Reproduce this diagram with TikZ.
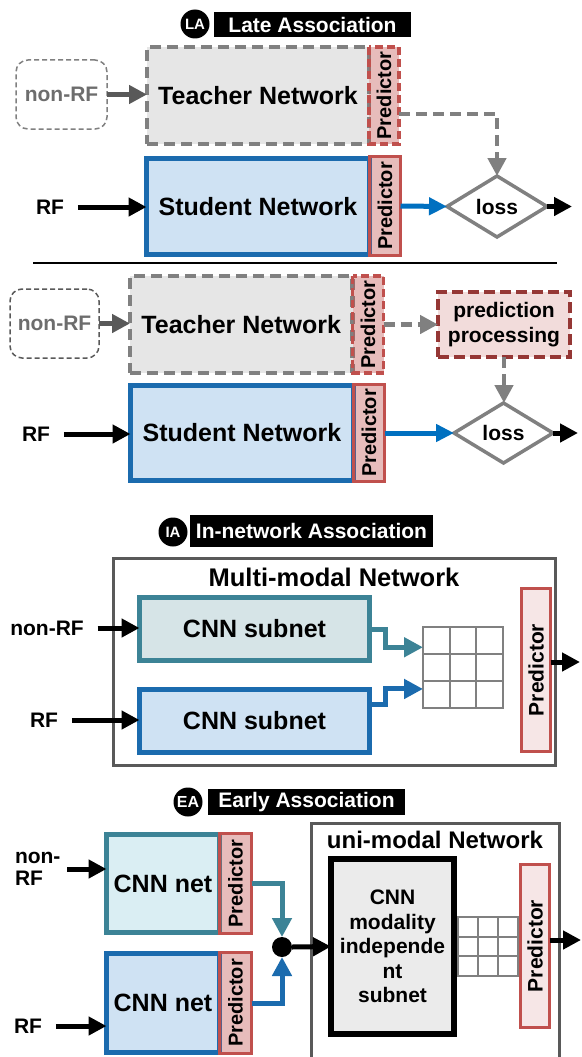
\documentclass[tikz,border=0pt]{standalone}
\usepackage{fontspec}
\setmainfont{Liberation Sans}
\usetikzlibrary{arrows.meta,shapes.geometric,calc}
\definecolor{gbord}{HTML}{808080}
\definecolor{tfill}{HTML}{E6E6E6}
\definecolor{sblue}{HTML}{1B6BAE}
\definecolor{sfill}{HTML}{CFE2F3}
\definecolor{predc}{HTML}{C0504D}
\definecolor{plight}{HTML}{F6E6E6}
\definecolor{ppb}{HTML}{953735}
\definecolor{ppf}{HTML}{F2DCDB}
\definecolor{arrblue}{HTML}{0070C0}
\definecolor{tealc}{HTML}{3C8396}
\definecolor{iatf}{HTML}{D6E4E7}
\definecolor{eatf}{HTML}{DAEEF3}
\definecolor{dgray}{HTML}{595959}
\definecolor{cmf}{HTML}{EBEBEB}
\definecolor{nrtext}{HTML}{6D6D6D}
\begin{document}
\begin{tikzpicture}[x=1pt,y=-1pt,
  every node/.style={inner sep=0pt,outer sep=0pt},
  ttl/.style={font=\bfseries\fontsize{21}{24}\selectfont},
  tsm/.style={font=\bfseries\fontsize{21}{24}\selectfont},
  tbig/.style={font=\bfseries\fontsize{25}{28}\selectfont},
  badge/.style={circle,fill=black,minimum size=29pt,text=white,font=\bfseries\fontsize{15}{15}\selectfont},
  titlebox/.style={fill=black,text=white,ttl},
  nonrfbox/.style={draw=#1,line width=1.5pt,dash pattern=on 5pt off 3pt,rounded corners=12pt,text=nrtext,tsm},
  teacherbox/.style={draw=gbord,line width=4.5pt,dash pattern=on 11pt off 6pt,fill=tfill,tbig},
  studentbox/.style={draw=sblue,line width=5pt,fill=sfill,tbig},
  predbase/.style={rotate=90,fill=predc,fill opacity=0.38,text opacity=1,draw=predc,draw opacity=1,line width=3.5pt,font=\bfseries\fontsize{20}{22}\selectfont},
  predT/.style={predbase,dash pattern=on 8pt off 4pt},
  predS/.style={predbase},
  predU/.style={rotate=90,fill=plight,draw=predc,line width=3.5pt,font=\bfseries\fontsize{21}{22}\selectfont},
  lossd/.style={diamond,draw=gbord,line width=3.5pt,fill=white,minimum width=100pt,minimum height=61pt,tsm},
  ppbox/.style={draw=ppb,line width=4.5pt,dash pattern=on 11pt off 5pt,fill=ppf,align=center,font=\bfseries\fontsize{21}{25}\selectfont},
  tealbox/.style={draw=tealc,line width=5pt,tbig},
  bluebox/.style={draw=sblue,line width=5pt,fill=sfill,tbig},
  netbox/.style={draw=dgray,line width=3pt,fill=white},
  gridbox/.style={draw=gbord,line width=2pt,fill=white},
  karr/.style={draw=black,line width=5pt,-{Triangle[length=18pt,width=18pt]}},
  garr/.style={draw=dgray,line width=5.5pt,-{Triangle[length=18pt,width=18pt]}},
  gdarr/.style={draw=gbord,line width=4.5pt,dash pattern=on 11pt off 6pt,-{Triangle[length=18pt,width=18pt]}},
  barr/.style={draw=arrblue,line width=5pt,-{Triangle[length=18pt,width=17pt]}},
  tarr/.style={draw=tealc,line width=5pt,-{Triangle[length=19pt,width=19pt]}},
  sarr/.style={draw=sblue,line width=5pt,-{Triangle[length=19pt,width=19pt]}},
]
\useasboundingbox (0,0) rectangle (581,1057);

% ================= Late Association =================
\node[badge] (la) at (195,24) {LA};
\node[titlebox,minimum width=197pt,minimum height=25pt] (lat) at (312.5,24.5) {Late Association};

\node[nonrfbox=gbord,minimum width=91pt,minimum height=69pt] (nr1) at (61.5,94.5) {non-RF};
\node[teacherbox,minimum width=222pt,minimum height=97pt] (t1) at (258,95.5) {Teacher Network};
\node[predT,minimum width=97pt,minimum height=30pt] (tp1) at (384,95.5) {Predictor};
\node[studentbox,minimum width=223pt,minimum height=96pt] (s1) at (258,206.5) {Student Network};
\node[predS,minimum width=99pt,minimum height=31pt] (sp1) at (385,206) {Predictor};
\node[lossd] (l1) at (497,206.5) {loss};
\node[tsm] (rf1) at (50,207) {RF};
\coordinate (o1) at (572,206.5);

\draw[garr] (nr1.east) -- (nr1.east -| t1.west);
\draw[karr] ([xshift=14pt]rf1.east) -- (rf1 -| s1.west);
\draw[gdarr] ([yshift=-18.5pt]tp1.south) -| (l1.north);
\draw[barr] (sp1.south) -- (l1.west);
\draw[karr] (l1.east) -- (o1);

\draw[line width=1.5pt] (33,263) -- (557,263);

% ================= second variant =================
\node[nonrfbox=dgray,minimum width=89pt,minimum height=69pt] (nr2) at (54.5,323.5) {non-RF};
\node[teacherbox,minimum width=222.5pt,minimum height=97pt] (t2) at (241.25,324.5) {Teacher Network};
\node[predT,minimum width=97pt,minimum height=31pt] (tp2) at (368,324.5) {Predictor};
\node[studentbox,minimum width=223pt,minimum height=95pt] (s2) at (242,433) {Student Network};
\node[predS,minimum width=97pt,minimum height=31pt] (sp2) at (369,433) {Predictor};
\node[ppbox,minimum width=132pt,minimum height=65pt] (pp) at (504,324.5) {prediction\\processing};
\node[lossd,minimum width=99pt,minimum height=60pt] (l2) at (503.5,433) {loss};
\node[tsm] (rf2) at (36,434) {RF};
\coordinate (o2) at (578,433);

\draw[garr] (nr2.east) -- (nr2.east -| t2.west);
\draw[karr] ([xshift=14pt]rf2.east) -- (rf2 -| s2.west);
\draw[gdarr] (tp2.south) -- (pp.west);
\draw[gdarr] (pp.south) -- (pp.south |- l2.north);
\draw[barr] (sp2.south) -- (l2.west);
\draw[karr] (l2.east) -- (o2);

% ================= In-network Association =================
\node[badge] (ia) at (173,532) {IA};
\node[titlebox,minimum width=243pt,minimum height=32pt] (iat) at (311.5,531) {In-network Association};

\node[netbox,minimum width=442pt,minimum height=207pt] (mm) at (334.5,662) {};
\node[font=\bfseries\fontsize{25.5}{28}\selectfont] (mmt) at (334,577) {Multi-modal Network};
\node[tealbox,fill=iatf,minimum width=230pt,minimum height=63pt] (c1) at (254.5,629) {CNN subnet};
\node[bluebox,minimum width=230pt,minimum height=63pt] (c2) at (254.5,721) {CNN subnet};
\node[tsm] (nr3) at (47,628) {non-RF};
\node[tsm] (rf3) at (44,720) {RF};
\node[gridbox,minimum width=80pt,minimum height=81pt] (g1) at (463,667.5) {};
\node[predU,minimum width=163pt,minimum height=29pt] (ip1) at (536,670) {Predictor};
\coordinate (o3) at (580,662);

\draw[karr] ([xshift=14pt]nr3.east) -- (nr3 -| c1.west);
\draw[karr] ([xshift=14pt]rf3.east) -- (rf3 -| c2.west);
\draw[tarr] (c1.east) -- ++(16,0) |- ($(g1.north west)!0.25!(g1.south west)$);
\draw[sarr] ([yshift=17pt]c2.east) -- ++(16,0) |- ($(g1.north west)!0.765!(g1.south west)$);
\draw[karr] (o3 -| ip1.south) -- (o3);

% ================= Early Association =================
\node[badge,font=\bfseries\fontsize{16}{16}\selectfont] (ea) at (188,802) {EA};
\node[titlebox,minimum width=197pt,minimum height=26pt] (eat) at (306.5,802) {Early Association};

\node[tealbox,fill=eatf,minimum width=113pt,minimum height=98pt] (e1) at (163,883.5) {CNN net};
\node[predS,minimum width=100pt,minimum height=32pt] (ep1) at (235.5,883.5) {Predictor};
\node[bluebox,minimum width=113pt,minimum height=99pt] (e2) at (163,1003) {CNN net};
\node[predS,minimum width=101pt,minimum height=32pt] (ep2) at (235.5,1003) {Predictor};
\node[tsm,align=left,anchor=west,font=\bfseries\fontsize{21}{22}\selectfont] (nr4) at (15,869) {non-\\RF};
\node[tsm] (rf4) at (28,1026) {RF};
\node[circle,fill=black,minimum size=20pt] (dot) at (282,947) {};

\node[netbox,minimum width=248pt,minimum height=239pt] (um) at (435.5,943) {};
\node[font=\bfseries\fontsize{24}{26}\selectfont] (umt) at (435,840) {uni-modal Network};
\node[draw=black,line width=6pt,fill=cmf,minimum width=123pt,minimum height=175pt,align=center,font=\bfseries\fontsize{21}{24.5}\selectfont] (cm) at (392.5,946.5) {CNN\\modality\\independe\\nt\\subnet};
\node[gridbox,minimum width=60pt,minimum height=59pt] (g2) at (488,946.5) {};
\node[predU,minimum width=163pt,minimum height=29pt] (up) at (535,946) {Predictor};
\coordinate (o4) at (581,940);

\draw[karr] ([xshift=7pt]nr4.east) -- (nr4 -| e1.west);
\draw[karr] ([xshift=14pt]rf4.east) -- (rf4 -| e2.west);
\draw[tarr] (ep1.south) -| (dot.north);
\draw[sarr] (ep2.south) -| (dot.south);
\draw[karr] (dot.east) -- (cm.west);
\draw[karr] (o4 -| up.south) -- (o4);

% grid lines
\foreach \g in {g1,g2}{
  \foreach \f in {0.3333,0.6667}{
    \draw[draw=gbord,line width=2pt] ($(\g.north west)!\f!(\g.north east)$) -- ($(\g.south west)!\f!(\g.south east)$);
    \draw[draw=gbord,line width=2pt] ($(\g.north west)!\f!(\g.south west)$) -- ($(\g.north east)!\f!(\g.south east)$);
  }
}
\end{tikzpicture}
\end{document}
